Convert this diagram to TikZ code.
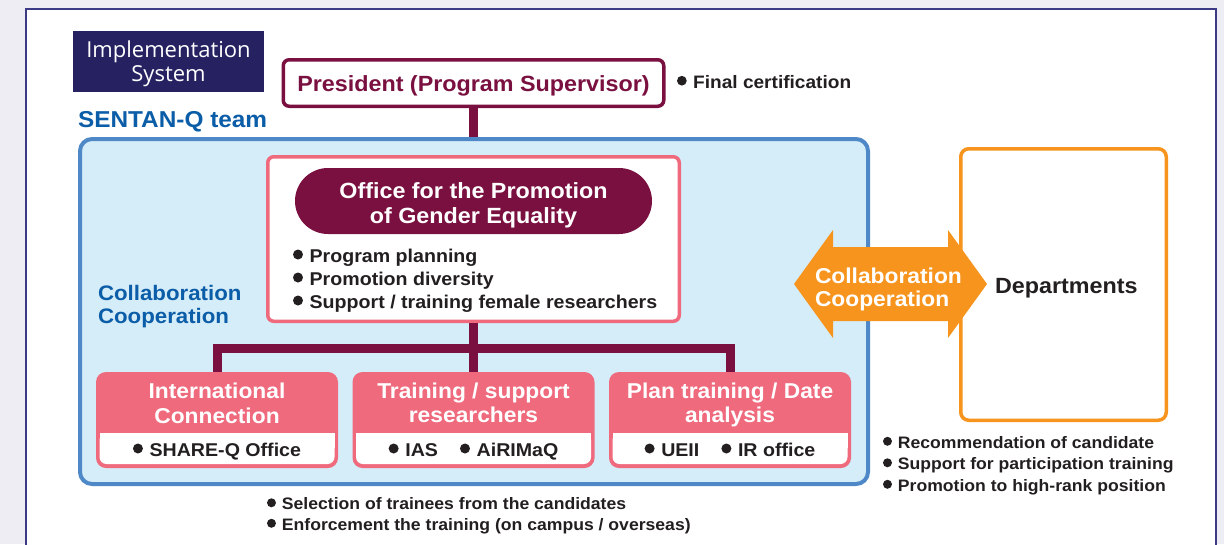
\documentclass[tikz,border=0pt]{standalone}
\usepackage{fontspec}
\setmainfont{Liberation Sans}[FakeStretch=1.06]
\newfontfamily\opensans{Open Sans}
\newcommand\setfs[1]{\fontsize{#1}{#1}\selectfont}
% round bullet followed by a small gap, sized from the current font size
\newlength\bulr
\makeatletter
\newcommand\bul{\setlength\bulr{\f@size pt}\setlength\bulr{0.27\bulr}%
  \tikz[baseline=0pt]\fill (\bulr,1.5\bulr) circle[radius=\bulr];\hspace{0.36em}}
\makeatother

\definecolor{bgcol}{HTML}{EDEDF3}
\definecolor{framecol}{HTML}{3D3A85}
\definecolor{navy}{HTML}{262262}
\definecolor{teamblue}{HTML}{0B5DA8}
\definecolor{teamline}{HTML}{4E88C7}
\definecolor{teamfill}{HTML}{D5ECF9}
\definecolor{mag}{HTML}{7A1040}
\definecolor{pink}{HTML}{EF6A7D}
\definecolor{orng}{HTML}{F7941D}
\definecolor{dark}{HTML}{231F20}

\begin{document}
\begin{tikzpicture}[x=1pt,y=-1pt,
  txt/.style={anchor=base,inner sep=0pt,outer sep=0pt},
  txtw/.style={txt,anchor=base west},
  panel/.style={shape=rectangle,inner sep=0pt,outer sep=0pt},
  tree/.style={draw=mag,line width=9,line cap=butt,line join=miter},
  bold/.style={font=\bfseries\setfs{#1}},
  childbox/.style={panel,fill=pink,rounded corners=10,minimum width=242,minimum height=96},
  note/.style={txtw,text=dark,bold=16.6}]
\useasboundingbox (0,0) rectangle (1224,544);
\fill[bgcol] (0,0) rectangle (1224,544);
\begin{scope}
  \clip (0,0) rectangle (1224,544);
  \draw[framecol,line width=2.5,fill=white] (26,9) rectangle (1216,580);
\end{scope}

% title block
\node[panel,fill=navy,minimum width=191,minimum height=61] (impl) at (168.5,61.5) {};
\node[txt,text=white,font=\opensans\setfs{22}] (impl1) at (168.5,57) {Implementation};
\node[txt,text=white,font=\opensans\setfs{22}] (impl2) at (168.5,81) {System};

\node[txtw,text=teamblue,bold=23] (sentan) at (78,127) {SENTAN-Q team};

% team area
\node[panel,draw=teamline,line width=4,fill=teamfill,rounded corners=12,
      minimum width=788,minimum height=345] (team) at (474,311.5) {};

% president
\node[panel,draw=mag,line width=3.5,fill=white,rounded corners=6,
      minimum width=380.5,minimum height=46.5] (pres) at (473.5,83) {};
\node[txt,text=mag,bold=22] (prest) at (473.5,91) {President (Program Supervisor)};
\node[txtw,text=dark,bold=18] (final) at (677,88) {\bul Final certification};
\draw[tree,shorten >=2] (pres.south) -- (pres.south |- team.north);

% office
\node[panel,draw=pink,line width=3.5,fill=white,rounded corners=6,
      minimum width=411.5,minimum height=164.5] (office) at (473.5,239) {};
\node[panel,fill=mag,rounded corners=33,minimum width=357,minimum height=66] (pill) at (473.5,201) {};
\node[txt,text=white,bold=22] (pill1) at (473.5,198) {Office for the Promotion};
\node[txt,text=white,bold=22] (pill2) at (473.5,223) {of Gender Equality};
\node[txtw,text=dark,bold=18.5] (ob1) at (293,262) {\bul Program planning};
\node[txtw,text=dark,bold=18.5] (ob2) at (293,285) {\bul Promotion diversity};
\node[txtw,text=dark,bold=18.5] (ob3) at (293,308) {\bul Support / training female researchers};

\node[txtw,text=teamblue,bold=21] (coll1) at (98,300) {Collaboration};
\node[txtw,text=teamblue,bold=21] (coll2) at (98,323) {Cooperation};

% units below the office
\node[childbox] (c1) at (217,420) {};
\node[childbox] (c2) at (473.5,420) {};
\node[childbox] (c3) at (730,420) {};
\foreach \n in {c1,c2,c3}{
  \fill[white,rounded corners=7] ([shift={(3.5,-4)}]\n.south west) rectangle ([shift={(-3.5,-35)}]\n.south east);
  \fill[white] ([shift={(3.5,-20)}]\n.south west) rectangle ([shift={(-3.5,-35)}]\n.south east);
}
\draw[tree,shorten <=1.75] (office.south) -- (c2.north);
\draw[tree] (c1.north) -- ++(0,-23.5) -| (c3.north);

\node[txt,text=white,bold=21.5] (c1a) at (217,398) {International};
\node[txt,text=white,bold=21.5] (c1b) at (217,423) {Connection};
\node[txt,text=dark,bold=18.5] (c1c) at (217,456) {\bul SHARE-Q Office};

\node[txt,text=white,bold=21.5] (c2a) at (473.5,398) {Training / support};
\node[txt,text=white,bold=21.5] (c2b) at (473.5,422) {researchers};
\node[txt,text=dark,bold=18.5] (c2c) at (473.5,456) {\bul IAS\hspace{22pt}\bul AiRIMaQ};

\node[txt,text=white,bold=21.5] (c3a) at (730,398) {Plan training / Date};
\node[txt,text=white,bold=21.5] (c3b) at (730,422) {analysis};
\node[txt,text=dark,bold=18.5] (c3c) at (730,456) {\bul UEII\hspace{22pt}\bul IR office};

% departments
\node[panel,draw=orng,line width=3.5,fill=white,rounded corners=8,
      minimum width=205.5,minimum height=271.5] (dept) at (1063.5,284.5) {};
\node[txtw,text=dark,bold=22] (deptt) at (995,293) {Departments};

% two-way arrow between the team and the departments
\fill[orng] (794,284) -- (833,230) -- (833,247) -- (948,247) -- (948,230) -- (987,284)
  -- (948,338) -- (948,321) -- (833,321) -- (833,338) -- cycle;
\node[txtw,text=white,bold=21.5] (arr1) at (815,283) {Collaboration};
\node[txtw,text=white,bold=21.5] (arr2) at (815,306) {Cooperation};

% notes
\node[note] (d1) at (883,448) {\bul Recommendation of candidate};
\node[note] (d2) at (883,469.5) {\bul Support for participation training};
\node[note] (d3) at (883,491) {\bul Promotion to high-rank position};
\node[note] (t1) at (267,509.5) {\bul Selection of trainees from the candidates};
\node[note] (t2) at (267,530) {\bul Enforcement the training (on campus / overseas)};
\end{tikzpicture}
\end{document}
